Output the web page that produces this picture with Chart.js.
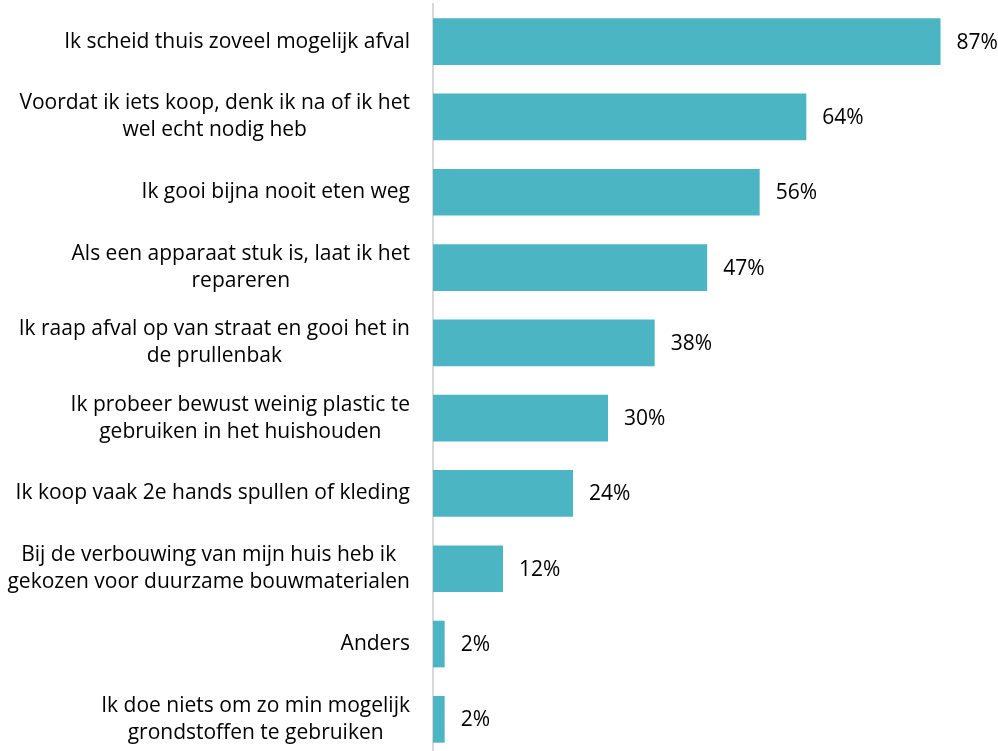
<!DOCTYPE html>
<html>
<head>
<meta charset="utf-8">
<script src="https://cdn.jsdelivr.net/npm/chart.js@4"></script>
<style>
  html, body { margin: 0; padding: 0; background: #fff; overflow: hidden; }
  #wrap { width: 998px; height: 757px; position: relative; }
</style>
</head>
<body>
<div id="wrap"><canvas id="chart"></canvas></div>
<script>
// ── Data ──
const categories = [
  ['Ik scheid thuis zoveel mogelijk afval'],
  ['Voordat ik iets koop, denk ik na of ik het', 'wel echt nodig heb'],
  ['Ik gooi bijna nooit eten weg'],
  ['Als een apparaat stuk is, laat ik het', 'repareren'],
  ['Ik raap afval op van straat en gooi het in', 'de prullenbak'],
  ['Ik probeer bewust weinig plastic te', 'gebruiken in het huishouden'],
  ['Ik koop vaak 2e hands spullen of kleding'],
  ['Bij de verbouwing van mijn huis heb ik', 'gekozen voor duurzame bouwmaterialen'],
  ['Anders'],
  ['Ik doe niets om zo min mogelijk', 'grondstoffen te gebruiken']
];
const values = [87, 64, 56, 47, 38, 30, 24, 12, 2, 2];

const FONT = 'Open Sans';
const LINE_H = 27;

// value labels right of each bar
const valueLabels = {
  id: 'valueLabels',
  afterDatasetsDraw(chart) {
    const ctx = chart.ctx;
    const meta = chart.getDatasetMeta(0);
    ctx.save();
    ctx.font = `21px "${FONT}"`;
    ctx.fillStyle = '#000';
    ctx.textAlign = 'left';
    ctx.textBaseline = 'middle';
    meta.data.forEach((bar, i) => {
      ctx.fillText(values[i] + '%', bar.x + 16, bar.y + 1);
    });
    ctx.restore();
  }
};

// category labels: block right-aligned to the axis, lines centred inside the block
const categoryLabels = {
  id: 'categoryLabels',
  afterDraw(chart) {
    const ctx = chart.ctx;
    const yScale = chart.scales.y;
    const right = chart.chartArea.left - 23;
    ctx.save();
    ctx.font = `21px "${FONT}"`;
    ctx.fillStyle = '#000';
    ctx.textAlign = 'center';
    ctx.textBaseline = 'middle';
    categories.forEach((lines, i) => {
      const y = yScale.getPixelForValue(i);
      const w = Math.max(...lines.map(l => ctx.measureText(l).width));
      const cx = right - w / 2;
      const top = y - (lines.length - 1) * LINE_H / 2;
      lines.forEach((l, j) => ctx.fillText(l, cx, top + j * LINE_H));
    });
    ctx.restore();
  }
};

new Chart(document.getElementById('chart'), {
  type: 'bar',
  data: {
    labels: categories,
    datasets: [{
      data: values,
      backgroundColor: '#4BB5C4',
      borderWidth: 0,
      barPercentage: 0.62,
      categoryPercentage: 1
    }]
  },
  options: {
    indexAxis: 'y',
    responsive: true,
    maintainAspectRatio: false,
    animation: false,
    layout: { padding: { top: 4, right: 40, bottom: 0, left: 0 } },
    plugins: {
      legend: { display: false },
      tooltip: { enabled: false }
    },
    scales: {
      x: { display: false, min: 0, max: 90 },
      y: {
        afterFit(scale) {
          scale.width = 433;
          scale.paddingTop = 0;
          scale.paddingBottom = 0;
        },
        grid: { color: 'transparent', drawTicks: false },
        border: { display: true, color: '#D9D9D9', width: 2 },
        ticks: { display: false }
      }
    }
  },
  plugins: [valueLabels, categoryLabels]
});
</script>
</body>
</html>
